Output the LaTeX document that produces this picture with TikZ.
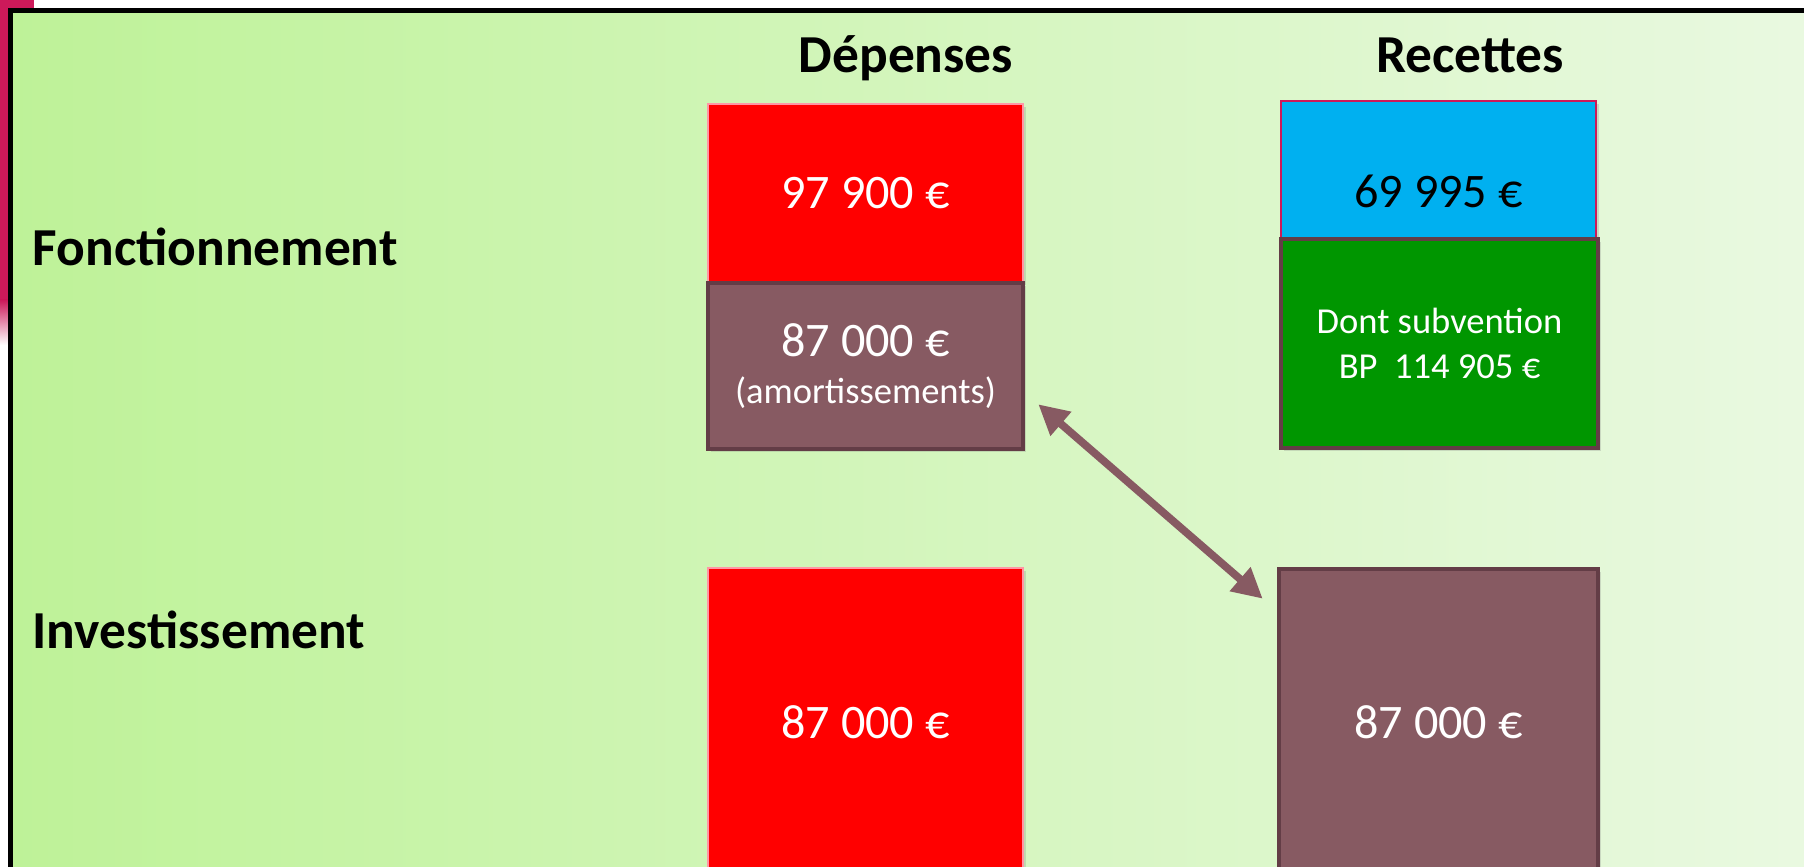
\documentclass[tikz,border=0pt]{standalone}
\usepackage{fontspec}
\setmainfont{Carlito}
\usetikzlibrary{arrows.meta, shadows, calc}

\definecolor{budgetred}{RGB}{255, 0, 0}
\definecolor{redline}{RGB}{255, 150, 165}
\definecolor{skyblue1}{RGB}{0, 176, 240}
\definecolor{crimson1}{RGB}{205, 25, 90}
\definecolor{green1}{RGB}{0, 150, 0}
\definecolor{mauve1}{RGB}{135, 90, 98}
\definecolor{mauvedark}{RGB}{99, 61, 70}
\definecolor{bgleft}{RGB}{190, 242, 152}
\definecolor{bgright}{RGB}{234, 249, 226}

\tikzset{
  amount/.style={inner sep=0pt, align=center, text=white,
    font=\fontsize{13.7}{16}\selectfont,
    drop shadow={opacity=0.25, shadow xshift=0.03cm, shadow yshift=-0.03cm}},
  redbox/.style={amount, fill=budgetred, draw=redline, line width=0.4pt},
  mauvebox/.style={amount, fill=mauve1, draw=mauvedark, line width=1.3pt},
  heading/.style={font=\bfseries\fontsize{15.2}{18}\selectfont, anchor=base, inner sep=0pt},
  link/.style={{Triangle[length=0.3cm, width=0.3cm]}-{Triangle[length=0.3cm, width=0.3cm]},
    draw=mauve1, line width=2.2pt},
}

\begin{document}
\begin{tikzpicture}
  \useasboundingbox (0,0) rectangle (18.04,-8.67);
  \clip (0,0) rectangle (18.04,-8.67);

  % crimson strip behind the panel
  \fill[crimson1] (0,0) rectangle (0.34,-3.0);
  \shade[top color=crimson1, bottom color=white] (0,-3.0) rectangle (0.1,-3.45);

  % panel
  \shadedraw[left color=bgleft, right color=bgright, draw=black, line width=1.4pt]
    (0.105,-0.105) rectangle (18.4,-9.0);

  % titles
  \node[heading] (dep) at (9.06,-0.725) {Dépenses};
  \node[heading] (rec) at (14.70,-0.725) {Recettes};
  \node[heading, anchor=base west] (fonct) at (0.32,-2.66) {Fonctionnement};
  \node[heading, anchor=base west] (invest) at (0.32,-6.49) {Investissement};

  % Fonctionnement
  \node[redbox, minimum width=3.15cm, minimum height=1.78cm] (dep1) at (8.655,-1.93) {97 900 €};
  \node[mauvebox, minimum width=3.15cm, minimum height=1.66cm] (dep2) at (8.655,-3.66)
    {87 000 €\\[-2.5pt]{\fontsize{10.4}{12}\selectfont (amortissements)}};

  \node[amount, fill=skyblue1, draw=crimson1, line width=0.4pt, text=black,
    minimum width=3.15cm, minimum height=1.81cm] (rec1) at (14.385,-1.915) {69 995 €};
  \node[amount, fill=green1, draw=mauvedark, line width=1.3pt,
    font=\fontsize{10.4}{12.8}\selectfont,
    minimum width=3.17cm, minimum height=2.09cm] (rec2) at (14.395,-3.435)
    {Dont subvention\\BP~~114 905 €};

  % Investissement
  \node[redbox, minimum width=3.15cm, minimum height=3.08cm] (dep3) at (8.655,-7.22) {87 000 €};
  \node[mauvebox, minimum width=3.19cm, minimum height=3.06cm] (rec3) at (14.385,-7.22) {87 000 €};

  \draw[link] ($(dep2.south east)+(0.13,0.47)$) -- ($(rec3.north west)+(-0.14,-0.32)$);
\end{tikzpicture}
\end{document}
